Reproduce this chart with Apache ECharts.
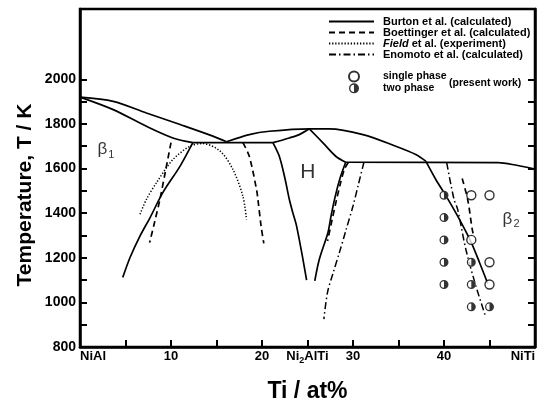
<!DOCTYPE html>
<html>
<head>
<meta charset="utf-8">
<script src="https://cdn.jsdelivr.net/npm/echarts@6/dist/echarts.min.js"></script>
<style>
  html, body { margin: 0; padding: 0; background: #fff; }
  #chart { width: 538px; height: 408px; }
</style>
</head>
<body>
<div id="chart"></div>
<script>
// 坐标轴刻度
const xTickValues = [0, 10, 20, 25, 30, 40, 50]
const xTickLabels = ['NiAl', '10', '20', 'Ni2AlTi', '30', '40', 'NiTi']
const xMinorTicks = [0, 5, 10, 15, 20, 25, 30, 35, 40, 45, 50]
const yTickValues = [800, 900, 1000, 1100, 1200, 1300, 1400, 1500, 1600, 1700, 1800, 1900, 2000]
const yLabelValues = [800, 1000, 1200, 1400, 1600, 1800, 2000]

// Burton et al. (实线)
const burtonLiquidusLeft = [[0, 1920], [3.65, 1901], [7.3, 1849], [11, 1797], [14.6, 1745], [16.1, 1720]]
const burtonSolidusB1 = [[0, 1920], [3.65, 1864], [7.3, 1789], [10.2, 1737], [12.4, 1716]]
const burtonEutectic = [[12.4, 1716], [21.2, 1716]]
const burtonLiquidusRight = [[16.1, 1720], [18.6, 1752], [20.8, 1767], [25.2, 1778], [27.4, 1778], [31.1, 1752], [34.7, 1700], [36.9, 1663], [38, 1633]]
const burtonB2Solvus = [[38, 1633], [39.1, 1551], [40.3, 1472], [41.7, 1372], [43, 1268], [43.9, 1179], [44.8, 1085]]
const burtonHSolidusLeft = [[21.2, 1716], [23, 1737], [24.1, 1752], [25.2, 1778]]
const burtonHSolidusRight = [[25.2, 1778], [26.7, 1715], [28.1, 1655], [29.2, 1628]]
const burtonPeritectic = [[29.2, 1628], [46, 1626], [47.5, 1618], [50, 1598]]
const burtonHLeft = [[21.2, 1716], [21.9, 1655], [22.5, 1560], [23.0, 1462], [23.4, 1400], [23.8, 1342], [24.5, 1193], [24.9, 1100]]
const burtonHRight = [[29.2, 1628], [28.6, 1560], [28.1, 1484], [27.6, 1390], [27.25, 1313], [26.3, 1193], [25.8, 1096]]
const burtonB1Solvus = [[12.4, 1716], [11.0, 1611], [9.1, 1492], [7.7, 1380], [6.6, 1298], [5.5, 1201], [4.7, 1112]]

// Boettinger et al. (虚线)
const boettB1 = [[10.0, 1716], [9.4, 1590], [8.8, 1465], [8.2, 1360], [7.65, 1268]]
const boettH1 = [[17.9, 1716], [18.6, 1655], [19.4, 1506], [19.55, 1462], [19.9, 1342], [20.2, 1264]]
const boettH2 = [[29.5, 1628], [29.05, 1596], [28.6, 1530], [28.2, 1462], [27.7, 1370], [27.2, 1275]]
const boettB2 = [[42.0, 1555], [42.6, 1462], [43.1, 1328], [43.3, 1290]]

// Field et al. (点线)
const fieldExp = [[6.6, 1395], [7.3, 1462], [8.4, 1536], [10.2, 1640], [12.1, 1700], [13.5, 1712], [15.4, 1678], [16.8, 1596], [17.9, 1476], [18.3, 1372]]

// Enomoto et al. (点划线)
const enoH = [[31.2, 1628], [30.6, 1530], [30.0, 1432], [29.2, 1320], [28.5, 1223], [27.8, 1130], [27.2, 1045], [26.8, 925]]
const enoB2 = [[40.3, 1625], [41.1, 1462], [41.5, 1417], [42.4, 1238], [43.5, 1074], [44.6, 933]]

// 本工作实验点
const singlePhase = [[43, 1480], [45, 1480], [43, 1280], [45, 1180], [45, 1080]]
const twoPhase = [[40, 1480], [40, 1380], [40, 1280], [40, 1180], [40, 1080], [43, 1180], [43, 1080], [43, 980], [45, 980]]

// 相区标注
const phaseLabels = [[2.85, 1685, 'β1'], [25.05, 1582, 'H'], [47.37, 1372, 'β2']]

const FONT = '"Liberation Sans", Arial, sans-serif'
const halfCircle = 'path://M0,-10A10,10,0,1,0,0,10A10,10,0,1,0,0,-10ZM0,-7.2L0,7.2A7.2,7.2,0,0,1,0,-7.2Z'

const lineSeries = (name, data, type, width, smooth) => ({
  name,
  type: 'line',
  data,
  symbol: 'none',
  color: '#000',
  smooth: smooth === undefined ? 0.3 : smooth,
  lineStyle: {color: '#000', width, type},
  z: 2
})

const BURTON = 'Burton et al. (calculated)'
const BOETT = 'Boettinger et al. (calculated)'
const FIELD = 'Field et al. (experiment)'
const ENO = 'Enomoto et al. (calculated)'

const chart = echarts.init(document.getElementById('chart'))

const option = {
  animation: false,
  textStyle: {fontFamily: FONT},
  grid: {left: 80, right: 2, top: 9, bottom: 60, show: true, borderColor: '#000', borderWidth: 2.5},
  legend: [
    {
      data: [BURTON, BOETT, FIELD, ENO],
      orient: 'vertical',
      left: 328,
      top: 16,
      padding: 0,
      itemWidth: 45,
      itemHeight: 8,
      itemGap: 0,
      selectedMode: false,
      itemStyle: {opacity: 0},
      formatter: name => name === FIELD ? '{i|Field} et al. (experiment)' : name,
      textStyle: {
        fontFamily: FONT, fontSize: 11, fontWeight: 'bold', color: '#000', lineHeight: 11,
        padding: [0, 0, 0, 4],
        rich: {i: {fontFamily: FONT, fontSize: 11, fontWeight: 'bold', fontStyle: 'italic', color: '#000'}}
      }
    },
    {
      data: ['single phase', 'two phase'],
      orient: 'vertical',
      left: 348,
      top: 70.5,
      padding: 0,
      itemWidth: 10,
      itemHeight: 10,
      itemGap: 0,
      selectedMode: false,
      textStyle: {fontFamily: FONT, fontSize: 10.5, fontWeight: 'bold', color: '#000', lineHeight: 11.7, padding: [0, 0, 0, 19]}
    }
  ],
  graphic: [
    {
      type: 'text', x: 25, y: 195, rotation: Math.PI / 2,
      style: {text: 'Temperature, T / K', font: 'bold 21px ' + FONT, fill: '#000', align: 'center', verticalAlign: 'middle', textAlign: 'center', textVerticalAlign: 'middle'}
    },
    {
      type: 'text', x: 449, y: 83,
      style: {text: '(present work)', font: 'bold 10.5px ' + FONT, fill: '#000', align: 'left', verticalAlign: 'middle', textAlign: 'left', textVerticalAlign: 'middle'}
    }
  ],
  xAxis: {
    type: 'value',
    min: 0,
    max: 50,
    interval: 5,
    name: 'Ti / at%',
    nameLocation: 'middle',
    nameGap: 33,
    nameTextStyle: {fontFamily: FONT, fontSize: 23, fontWeight: 'bold', color: '#000'},
    axisLine: {lineStyle: {color: '#000', width: 2.5}},
    axisTick: {inside: true, length: 7, lineStyle: {color: '#000', width: 2}, customValues: xMinorTicks},
    axisLabel: {
      customValues: xTickValues,
      margin: 3,
      alignMinLabel: 'left',
      alignMaxLabel: 'right',
      fontFamily: FONT, fontSize: 13, fontWeight: 'bold', color: '#000',
      formatter: v => {
        const label = xTickLabels[xTickValues.indexOf(v)] || ''
        return label.replace(/^(\D+)(\d)(\D+)$/, '{n|$1}{s|$2}{n|$3}')
      },
      rich: {
        n: {fontFamily: FONT, fontSize: 13, fontWeight: 'bold', color: '#000', lineHeight: 13, verticalAlign: 'top'},
        s: {fontFamily: FONT, fontSize: 9, fontWeight: 'bold', color: '#000', lineHeight: 9, padding: [6, 0, 0, 0], verticalAlign: 'top'}
      }
    },
    splitLine: {show: false}
  },
  yAxis: [
    {
      type: 'value',
      min: 800,
      max: 2315,
      axisLine: {show: true, lineStyle: {color: '#000', width: 2.5}},
      axisTick: {inside: true, length: 7, lineStyle: {color: '#000', width: 2}, customValues: yTickValues},
      axisLabel: {customValues: yLabelValues, margin: 4, fontFamily: FONT, fontSize: 14, fontWeight: 'bold', color: '#000', formatter: v => String(v)},
      splitLine: {show: false}
    },
    {
      type: 'value',
      position: 'right',
      min: 800,
      max: 2315,
      axisLine: {show: true, lineStyle: {color: '#000', width: 2.5}},
      axisTick: {show: true, inside: true, length: 7, lineStyle: {color: '#000', width: 2}, customValues: yTickValues},
      axisLabel: {show: false},
      splitLine: {show: false}
    }
  ],
  series: [
    lineSeries(BURTON, burtonLiquidusLeft, 'solid', 1.7),
    lineSeries(BURTON, burtonSolidusB1, 'solid', 1.7),
    lineSeries(BURTON, burtonEutectic, 'solid', 1.7, false),
    lineSeries(BURTON, burtonLiquidusRight, 'solid', 1.7),
    lineSeries(BURTON, burtonB2Solvus, 'solid', 1.7),
    lineSeries(BURTON, burtonHSolidusLeft, 'solid', 1.7),
    lineSeries(BURTON, burtonHSolidusRight, 'solid', 1.7),
    lineSeries(BURTON, burtonPeritectic, 'solid', 1.7, 0.2),
    lineSeries(BURTON, burtonHLeft, 'solid', 1.7),
    lineSeries(BURTON, burtonHRight, 'solid', 1.7),
    lineSeries(BURTON, burtonB1Solvus, 'solid', 1.7),
    lineSeries(BOETT, boettB1, [6, 4], 1.7),
    lineSeries(BOETT, boettH1, [6, 4], 1.7),
    lineSeries(BOETT, boettH2, [6, 4], 1.7),
    lineSeries(BOETT, boettB2, [6, 4], 1.7),
    lineSeries(FIELD, fieldExp, [1.3, 1.8], 1.5),
    lineSeries(ENO, enoH, [7, 3, 1.5, 3], 1.5),
    lineSeries(ENO, enoB2, [7, 3, 1.5, 3], 1.5),
    {
      name: 'single phase',
      type: 'scatter',
      data: singlePhase,
      symbol: 'circle',
      symbolSize: 9,
      itemStyle: {color: '#fff', borderColor: '#000', borderWidth: 1.4},
      z: 5
    },
    {
      name: 'twoPhaseBack',
      type: 'scatter',
      data: twoPhase,
      symbol: 'circle',
      symbolSize: 9,
      itemStyle: {color: '#fff'},
      z: 4
    },
    {
      name: 'two phase',
      type: 'scatter',
      data: twoPhase,
      symbol: halfCircle,
      symbolSize: 9,
      itemStyle: {color: '#000'},
      z: 5
    },
    {
      name: 'phaseLabels',
      type: 'scatter',
      data: phaseLabels,
      symbolSize: 0,
      silent: true,
      label: {
        show: true,
        position: 'inside',
        formatter: p => {
          const t = p.data[2]
          return t.length > 1 ? '{n|' + t[0] + '}{s|' + t.slice(1) + '}' : '{h|' + t + '}'
        },
        rich: {
          n: {fontFamily: FONT, fontSize: 17, color: '#000', lineHeight: 17, verticalAlign: 'top'},
          s: {fontFamily: FONT, fontSize: 11, color: '#000', lineHeight: 11, padding: [8, 0, 0, 1], verticalAlign: 'top'},
          h: {fontFamily: FONT, fontSize: 21, color: '#000'}
        }
      },
      z: 6
    }
  ]
}

chart.setOption(option)
</script>
</body>
</html>
